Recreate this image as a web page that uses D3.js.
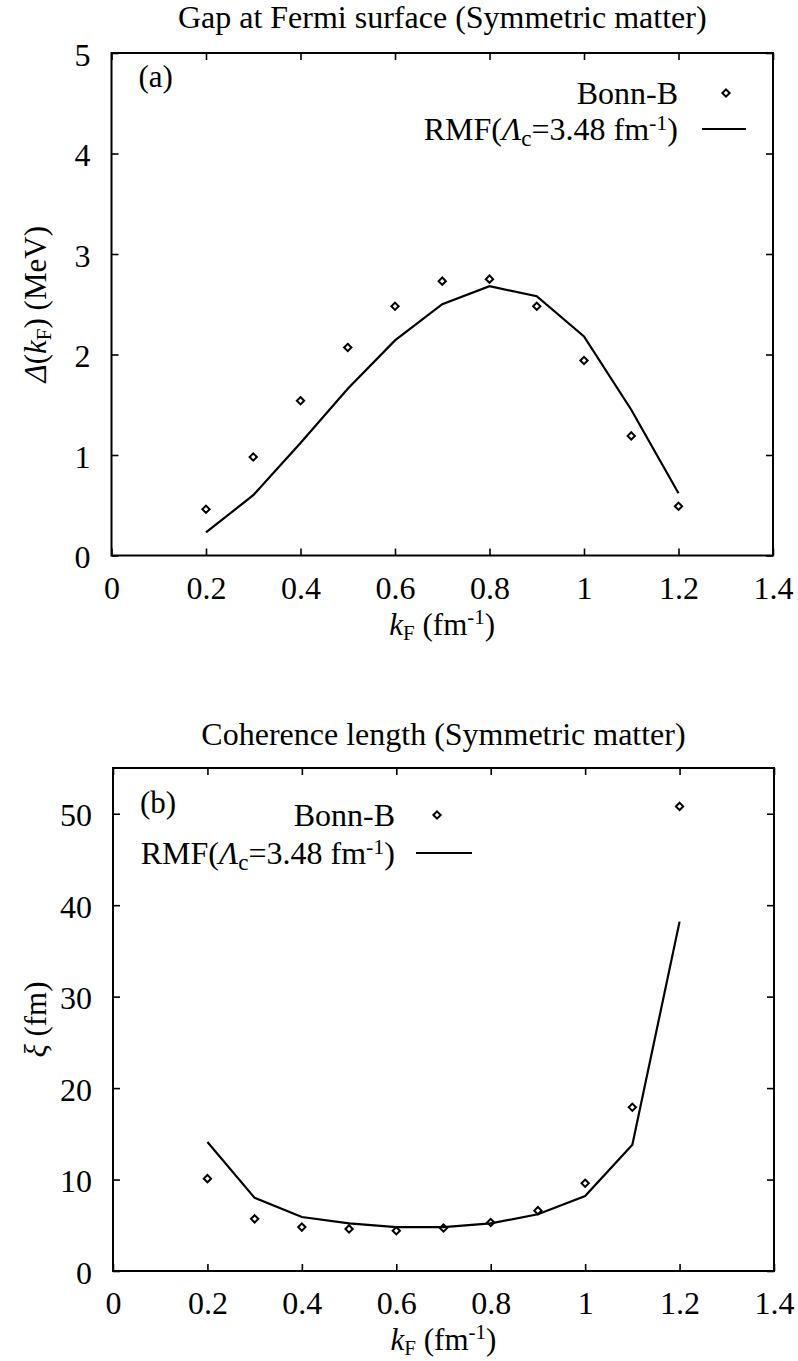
<!DOCTYPE html>
<html><head><meta charset="utf-8">
<script src="https://cdn.jsdelivr.net/npm/d3@7"></script>
<style>
body{margin:0;background:#fff;}
svg{display:block;}
svg text, svg tspan{font-family:"Liberation Serif","Times New Roman",Times,serif !important;}
</style></head>
<body><svg id="c" width="798" height="1361"></svg>
<script>
const kF = [0.2,0.3,0.4,0.5,0.6,0.7,0.8,0.9,1.0,1.1,1.2];
const gapBonn = [0.46,0.98,1.54,2.07,2.48,2.73,2.75,2.48,1.94,1.19,0.49];
const gapRMF  = [0.23,0.60,1.12,1.66,2.14,2.50,2.68,2.58,2.18,1.45,0.62];
const xiBonn  = [10.1,5.7,4.8,4.6,4.4,4.7,5.3,6.6,9.6,17.9,50.8];
const xiRMF   = [14.1,8.0,5.9,5.2,4.8,4.8,5.2,6.2,8.2,13.8,38.2];
const xTicks = [0,0.2,0.4,0.6,0.8,1,1.2,1.4];
const gapTicks = [0,1,2,3,4,5];
const xiTicks = [0,10,20,30,40,50];

const svg = d3.select("#c");
const FONT = '"Liberation Serif","Times New Roman",Times,serif';
svg.attr("font-family",FONT);

function drawPanel(o){
  const g = svg.append("g").attr("font-family",FONT);
  const x = d3.scaleLinear().domain([0,1.4]).range([o.left,o.right]);
  const y = d3.scaleLinear().domain(o.ydom).range([o.bottom,o.top]);
  const tl = 7;
  const style = sel => { sel.attr("font-family",FONT); sel.select(".domain").remove();
    sel.selectAll("line").attr("stroke","#000").attr("stroke-width",1.6);
    sel.selectAll("text").attr("font-family",FONT); };
  const xb = d3.axisBottom(x).tickValues(xTicks).tickSize(-tl).tickPadding(0).tickFormat(d3.format("~g"));
  const gx = g.append("g").attr("transform",`translate(0,${o.bottom})`).call(xb).call(style);
  gx.selectAll("text").attr("font-size",32).attr("fill","#000").attr("y",43).attr("dy",0);
  const xt = d3.axisTop(x).tickValues(xTicks).tickSize(-tl).tickFormat("");
  g.append("g").attr("transform",`translate(0,${o.top})`).call(xt).call(style);
  const yl = d3.axisLeft(y).tickValues(o.yticks).tickSize(-tl).tickPadding(0).tickFormat(d3.format("~g"));
  const gy = g.append("g").attr("transform",`translate(${o.left},0)`).call(yl).call(style);
  gy.selectAll("text").attr("font-size",32).attr("fill","#000").attr("x",-21).attr("dy","0.38em");
  const yr = d3.axisRight(y).tickValues(o.yticks).tickSize(-tl).tickFormat("");
  g.append("g").attr("transform",`translate(${o.right},0)`).call(yr).call(style);
  // frame
  g.append("rect").attr("x",o.left).attr("y",o.top).attr("width",o.right-o.left).attr("height",o.bottom-o.top)
    .attr("fill","none").attr("stroke","#000").attr("stroke-width",2);
  // title
  g.append("text").attr("x",(o.left+o.right)/2).attr("y",o.titleY).attr("text-anchor","middle")
    .attr("font-size",32).text(o.title);
  // x label
  const xlab = g.append("text").attr("x",(o.left+o.right)/2).attr("y",o.bottom+79).attr("text-anchor","middle").attr("font-size",31);
  xlab.append("tspan").attr("font-style","italic").text("k");
  xlab.append("tspan").attr("font-size",21).attr("dy",5).text("F");
  xlab.append("tspan").attr("dy",-5).text(" (fm");
  xlab.append("tspan").attr("font-size",21).attr("dy",-11).text("-1");
  xlab.append("tspan").attr("dy",11).text(")");
  // y label
  const ylab = g.append("text").attr("transform",`translate(46,${(o.top+o.bottom)/2}) rotate(-90)`)
    .attr("text-anchor","middle").attr("font-size",31);
  o.ylabel(ylab);
  // panel tag
  g.append("text").attr("x",o.left+27).attr("y",o.tagY).attr("font-size",31).attr("dy","0.35em").text(o.tag);
  // data
  const pts = kF.map((k,i)=>({k,b:o.bonn[i],r:o.rmf[i]}));
  const line = d3.line().x(d=>x(d.k)).y(d=>y(d.r));
  g.append("path").datum(pts).attr("d",line).attr("fill","none").attr("stroke","#000").attr("stroke-width",2.2);
  const sym = d3.symbol().type(d3.symbolDiamond2).size(34);
  g.selectAll(".pt").data(pts).join("path").attr("class","pt")
    .attr("transform",d=>`translate(${x(d.k)},${y(d.b)})`).attr("d",sym)
    .attr("fill","none").attr("stroke","#000").attr("stroke-width",2);
  // legend
  const L = o.legend;
  g.append("text").attr("x",L.textRight).attr("y",L.y1).attr("text-anchor","end").attr("font-size",32).attr("dy","0.35em").text("Bonn-B");
  g.append("path").attr("transform",`translate(${L.mark},${L.y1})`).attr("d",sym)
    .attr("fill","none").attr("stroke","#000").attr("stroke-width",2);
  const t2 = g.append("text").attr("x",L.textRight).attr("y",L.y2).attr("text-anchor","end").attr("font-size",32).attr("dy","0.35em");
  t2.append("tspan").text("RMF(");
  t2.append("tspan").attr("font-style","italic").text("Λ");
  t2.append("tspan").attr("font-size",23).attr("dy",6).text("c");
  t2.append("tspan").attr("dy",-6).text("=3.48 fm");
  t2.append("tspan").attr("font-size",22).attr("dy",-10).text("-1");
  t2.append("tspan").attr("dy",10).text(")");
  g.append("line").attr("x1",L.l1).attr("x2",L.l2).attr("y1",L.y2).attr("y2",L.y2).attr("stroke","#000").attr("stroke-width",2.2);
}

drawPanel({
  left:111.5,right:773,top:53,bottom:555.5,ydom:[0,5],yticks:gapTicks,
  bonn:gapBonn,rmf:gapRMF,title:"Gap at Fermi surface (Symmetric matter)",titleY:28,
  tag:"(a)",tagY:76,
  ylabel:(t)=>{t.append("tspan").attr("font-style","italic").text("Δ");
    t.append("tspan").text("(");
    t.append("tspan").attr("font-style","italic").text("k");
    t.append("tspan").attr("font-size",21).attr("dy",5).text("F");
    t.append("tspan").attr("dy",-5).text(") (MeV)");},
  legend:{textRight:678,mark:726,y1:93,y2:129,l1:702,l2:746}
});
drawPanel({
  left:113,right:774,top:768,bottom:1271,ydom:[0,55],yticks:xiTicks,
  bonn:xiBonn,rmf:xiRMF,title:"Coherence length (Symmetric matter)",titleY:745,
  tag:"(b)",tagY:802,
  ylabel:(t)=>{t.append("tspan").attr("font-style","italic").text("ξ");
    t.append("tspan").text(" (fm)");},
  legend:{textRight:395,mark:437,y1:815,y2:853,l1:416,l2:472}
});
</script></body></html>
